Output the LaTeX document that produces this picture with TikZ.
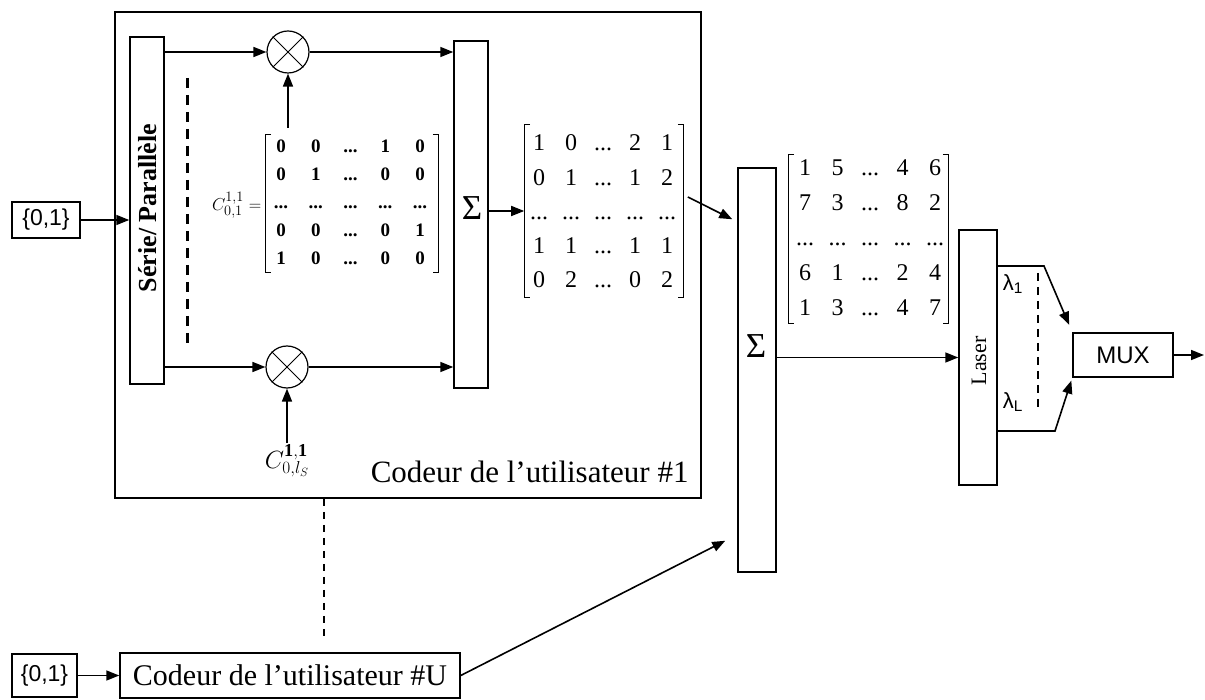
\documentclass[tikz,border=0pt]{standalone}
\usepackage{fontspec}
\setmainfont{Liberation Serif}
\setsansfont{Liberation Sans}
\usetikzlibrary{arrows.meta,calc}
\newcommand\ddd{...}
\tikzset{
  blk/.style={draw,line width=1.5pt,inner sep=0pt},
  mult/.style={draw,circle,line width=1.2pt,minimum size=42pt,inner sep=0pt},
  mtx/.style={inner sep=0pt},
  brk/.style={line width=1.2pt},
  dsh/.style={dash pattern=on 7pt off 6pt,line width=1.8pt},
}

\begin{document}
\begin{tikzpicture}[x=1pt,y=-1pt,line width=1.6pt,>={Triangle[length=13pt,width=10pt]}]
  \useasboundingbox (0,0) rectangle (1205,700);
  % coder of user 1
  \node[blk,minimum width=586pt,minimum height=486pt] (cod1) at (408,255) {};
  \node[blk,minimum width=68pt,minimum height=36pt,font=\sffamily\fontsize{23}{26}\selectfont] (in1) at (46,220) {\{0,1\}};
  \node[blk,minimum width=34pt,minimum height=347pt] (sp) at (147,210.5) {};
  \node[rotate=90,font=\bfseries\fontsize{26}{28}\selectfont] (sptxt) at (148,208) {Série/ Parallèle};
  \node[mult] (m1) at (288,52) {};
  \node[mult] (m2) at (287,367) {};
  \draw[line width=1pt] (m1.north east) -- (m1.south west) (m1.north west) -- (m1.south east);
  \draw[line width=1pt] (m2.north east) -- (m2.south west) (m2.north west) -- (m2.south east);
  \node[blk,minimum width=34pt,minimum height=347pt] (s1) at (471,214.5) {};
  \node[font=\fontsize{35}{38}\selectfont] (sg1) at (472,208) {Σ};
  \draw[->] (in1) -- (in1 -| sp.west);
  \draw[->] (sp.east |- m1) -- (m1);
  \draw[->] (sp.east |- m2) -- (m2);
  \draw[->] (m1) -- (m1 -| s1.west);
  \draw[->] (m2) -- (m2 -| s1.west);
  \draw[dash pattern=on 10pt off 7pt,line width=3pt] (187,78) -- (187,349);

  % code matrix
  \node[mtx,minimum width=172pt,minimum height=137pt] (matB) at (352,203.5) {};
  \draw[brk] ([xshift=6pt]matB.north west) -| (matB.south west) -- ++(6,0);
  \draw[brk] ([xshift=-6pt]matB.north east) -| (matB.south east) -- ++(-6,0);
  \foreach \row [count=\i] in {{0,0,\ddd,1,0},{0,1,\ddd,0,0},{\ddd,\ddd,\ddd,\ddd,\ddd},{0,0,\ddd,0,1},{1,0,\ddd,0,0}}
    \foreach \e [count=\j] in \row
      \node[anchor=base,inner sep=0pt,font=\bfseries\fontsize{19}{22}\selectfont] (b-\i-\j) at ({281+34.75*(\j-1)},{152.5+28*(\i-1)}) {\e};
  \node[anchor=east,inner sep=1pt,font=\fontsize{19}{22}\selectfont] (clab) at (263,205) {$C^{1,1}_{0,1}=$};
  \coordinate (cb) at (288,128);
  \draw[->] (cb) -- (m1.south);
  \node[anchor=north,inner sep=1pt,font=\fontsize{26}{30}\selectfont] (cls) at (287,443) {$C^{\mathbf{1,1}}_{0,l_S}$};
  \draw[->] (cls.north) -- (m2.south);
  \node[anchor=base west,inner sep=0pt,font=\fontsize{31}{34}\selectfont] (cod1txt) at (370,482) {Codeur de l’utilisateur \#1};

  % sum of user 1
  \node[mtx,minimum width=158pt,minimum height=172pt] (mat1) at (604,211) {};
  \draw[brk] ([xshift=6pt]mat1.north west) -| (mat1.south west) -- ++(6,0);
  \draw[brk] ([xshift=-6pt]mat1.north east) -| (mat1.south east) -- ++(-6,0);
  \foreach \row [count=\i] in {{1,0,\ddd,2,1},{0,1,\ddd,1,2},{\ddd,\ddd,\ddd,\ddd,\ddd},{1,1,\ddd,1,1},{0,2,\ddd,0,2}}
    \foreach \e [count=\j] in \row
      \node[anchor=base,inner sep=0pt,font=\fontsize{24}{28}\selectfont] (a-\i-\j) at ({539+32*(\j-1)},{151+34.25*(\i-1)}) {\e};
  \draw[->] (s1.east |- mat1.west) -- (mat1.west);

  % sum of all users
  \node[blk,minimum width=38pt,minimum height=404pt] (s2) at (757,370) {};
  \node[font=\fontsize{35}{38}\selectfont] (sg2) at (756,346) {Σ};
  \draw[->] ($(mat1.east)+(4,-14)$) -- ($(s2.north west)+(-5,52)$);
  \node[mtx,minimum width=159pt,minimum height=168pt] (mat2) at (868.5,239) {};
  \draw[brk] ([xshift=6pt]mat2.north west) -| (mat2.south west) -- ++(6,0);
  \draw[brk] ([xshift=-6pt]mat2.north east) -| (mat2.south east) -- ++(-6,0);
  \foreach \row [count=\i] in {{1,5,\ddd,4,6},{7,3,\ddd,8,2},{\ddd,\ddd,\ddd,\ddd,\ddd},{6,1,\ddd,2,4},{1,3,\ddd,4,7}}
    \foreach \e [count=\j] in \row
      \node[anchor=base,inner sep=0pt,font=\fontsize{24}{28}\selectfont] (c-\i-\j) at ({805+32.5*(\j-1)},{176+35*(\i-1)}) {\e};

  % laser and multiplexer
  \node[blk,minimum width=38pt,minimum height=255pt] (laser) at (978,357.5) {};
  \node[rotate=90,font=\fontsize{22}{24}\selectfont] (lasertxt) at (979,361) {Laser};
  \draw[->] (s2.east |- laser.west) -- (laser.west);
  \node[blk,minimum width=100pt,minimum height=44pt,font=\sffamily\fontsize{24}{26}\selectfont] (mux) at (1123,355) {MUX};
  \coordinate (l1) at (1044,266);
  \coordinate (lL) at (1055,431);
  \draw[->,shorten >=8pt] (laser.east |- l1) -- (l1) -- (mux.north west);
  \draw[->,shorten >=3pt] (laser.east |- lL) -- (lL) -- (mux.south west);
  \draw[dash pattern=on 8pt off 6pt,line width=2.4pt] (1038,273) -- (1038,412);
  \node[font=\sffamily\fontsize{22}{24}\selectfont] (lam1) at (1013,284) {λ\textsubscript{1}};
  \node[font=\sffamily\fontsize{22}{24}\selectfont] (lamL) at (1013,402) {λ\textsubscript{L}};
  \coordinate (out) at (1204,355);
  \draw[->] (mux) -- (out);

  % coder of user U
  \node[blk,minimum width=65pt,minimum height=43pt,font=\sffamily\fontsize{23}{26}\selectfont] (in2) at (44.5,675.5) {\{0,1\}};
  \node[blk,minimum width=340pt,minimum height=45pt,font=\fontsize{30}{33}\selectfont] (codU) at (290,675.5) {Codeur de l’utilisateur \#U};
  \draw[->] (in2) -- (codU);
  \coordinate (ux) at (324,0);
  \draw[dsh,shorten >=11pt] (cod1.south -| ux) -- (codU.north -| ux);
  \draw[->] (codU.east) -- ($(s2.south west)+(-12,-32)$);
\end{tikzpicture}
\end{document}
